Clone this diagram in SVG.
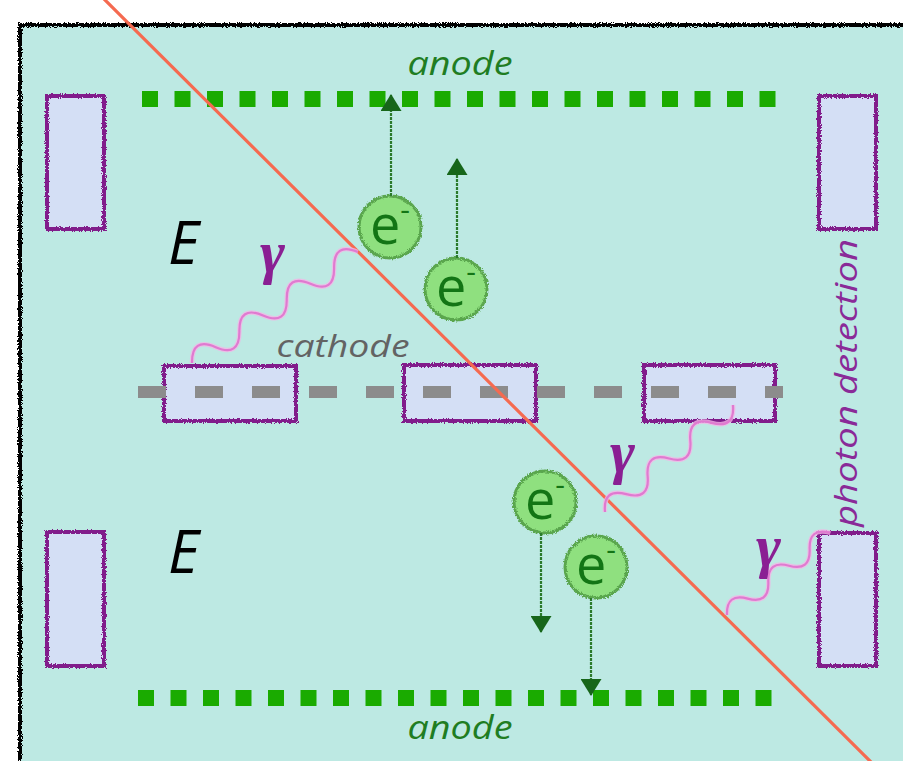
<svg xmlns="http://www.w3.org/2000/svg" width="903" height="761" viewBox="0 0 903 761">
<style>
.lbl{font-family:"Open Sans",Lato,"Liberation Sans",sans-serif;font-style:italic}
.anode{fill:#1f7d22;font-size:33px}
.cath{fill:#636363;font-size:31px}
.E{fill:#000;font-size:60px}
.gam{fill:#8a1f93;font-family:"Liberation Serif","DejaVu Serif",serif;font-style:italic;font-weight:bold;font-size:60px}
.det{fill:#8a2a98;font-size:31px}
.pbox{fill:#d4dff5;stroke:#811a8b;stroke-width:4}
.elec{fill:#8fe07f;stroke:#5aa64e;stroke-width:3}
.etxt{fill:#137515;font-family:"Open Sans",Lato,"Liberation Sans",sans-serif;font-size:54px}
.earrow{stroke:#2b7a2b;stroke-width:2.2;stroke-dasharray:3 1;fill:none}
.karrow{stroke:#000;stroke-width:3;fill:none}
.wave{fill:none;stroke:#e07ad0;stroke-width:2.2}
.wavehalo{fill:none;stroke:#f2b6e6;stroke-width:4.5;opacity:0.8}
</style>
<defs>
<filter id="rough" x="-10%" y="-10%" width="120%" height="120%">
<feTurbulence type="fractalNoise" baseFrequency="1.2" numOctaves="2" seed="3" result="n"/>
<feDisplacementMap in="SourceGraphic" in2="n" scale="4" xChannelSelector="R" yChannelSelector="G"/>
</filter>
<marker id="gHead" markerUnits="userSpaceOnUse" viewBox="0 0 17 21" refX="16" refY="10.5" markerWidth="17" markerHeight="21" orient="auto">
<path d="M0,0 L17,10.5 L0,21 Z" fill="#17661a"/>
</marker>
<marker id="kHead" markerUnits="userSpaceOnUse" viewBox="0 0 27 38" refX="26" refY="19" markerWidth="27" markerHeight="38" orient="auto">
<path d="M0,0 L27,19 L0,38 L5,19 Z" fill="#000"/>
</marker>
</defs>
<rect width="903" height="761" fill="#fff"/>
<g id="chamber">
<rect x="20" y="25" width="900" height="750" fill="#bde9e3"/>
<path d="M20,760 L20,25 L903,25" fill="none" stroke="#000" stroke-width="4" filter="url(#rough)"/>
<path d="M20,758 L903,758" fill="none" stroke="#000" stroke-width="3" filter="url(#rough)" opacity="0.7"/>
</g>
<g id="pmt-top-left"><rect class="pbox" x="47" y="96" width="57" height="133" filter="url(#rough)"/></g>
<g id="pmt-top-right"><rect class="pbox" x="819" y="96" width="57" height="133" filter="url(#rough)"/></g>
<g id="pmt-bottom-left"><rect class="pbox" x="47" y="532" width="57" height="134" filter="url(#rough)"/></g>
<g id="pmt-bottom-right"><rect class="pbox" x="819" y="533" width="57" height="133" filter="url(#rough)"/></g>
<g id="cathode-box-1"><rect class="pbox" x="164" y="366" width="132" height="55" filter="url(#rough)"/></g>
<g id="cathode-box-2"><rect class="pbox" x="404" y="365" width="132" height="56" filter="url(#rough)"/></g>
<g id="cathode-box-3"><rect class="pbox" x="644" y="365" width="131" height="56" filter="url(#rough)"/></g>
<g id="anode-top">
<line x1="142" y1="99" x2="777" y2="99" stroke="#1aab00" stroke-width="16" stroke-dasharray="16 16.5"/>
<text class="lbl anode" x="460" y="75" text-anchor="middle" textLength="105" lengthAdjust="spacingAndGlyphs">anode</text>
</g>
<g id="anode-bottom">
<line x1="138" y1="698" x2="773" y2="698" stroke="#1aab00" stroke-width="16" stroke-dasharray="16 16.5"/>
<text class="lbl anode" x="460" y="739" text-anchor="middle" textLength="105" lengthAdjust="spacingAndGlyphs">anode</text>
</g>
<g id="cathode">
<line x1="138" y1="392" x2="783" y2="392" stroke="#8c8c8c" stroke-width="12" stroke-dasharray="28 29"/>
<text class="lbl cath" x="343" y="357" text-anchor="middle" textLength="133" lengthAdjust="spacingAndGlyphs">cathode</text>
</g>
<g id="field-labels">
<text class="lbl E" x="168" y="264">E</text>
<text class="lbl E" x="168" y="573">E</text>
</g>
<g id="track">
<line x1="103" y1="-2" x2="872" y2="763" stroke="#f56a50" stroke-width="3.2"/>
</g>
<g id="electron-1"><circle class="elec" cx="390" cy="227" r="31" filter="url(#rough)"/><text class="etxt" x="370" y="244">e<tspan font-size="30" dy="-24">-</tspan></text></g>
<g id="electron-2"><circle class="elec" cx="456" cy="289" r="31" filter="url(#rough)"/><text class="etxt" x="436" y="306">e<tspan font-size="30" dy="-24">-</tspan></text></g>
<g id="electron-3"><circle class="elec" cx="545" cy="502" r="31" filter="url(#rough)"/><text class="etxt" x="525" y="519">e<tspan font-size="30" dy="-24">-</tspan></text></g>
<g id="electron-4"><circle class="elec" cx="596" cy="567" r="31" filter="url(#rough)"/><text class="etxt" x="576" y="584">e<tspan font-size="30" dy="-24">-</tspan></text></g>
<g id="photons">
<g transform="translate(192,363) rotate(-33.8)">
<path class="wavehalo" d="M0,0 q14.25,-22 28.5,0 t28.5,0 t28.5,0 t28.5,0 t28.5,0 t28.5,0 t28.5,0"/>
<path class="wave" d="M0,0 q14.25,-22 28.5,0 t28.5,0 t28.5,0 t28.5,0 t28.5,0 t28.5,0 t28.5,0"/>
</g>
<text class="gam" x="260" y="272">γ</text>
<g transform="translate(605,512) rotate(-39.9)">
<path class="wavehalo" d="M0,0 q13.9,-20 27.8,0 t27.8,0 t27.8,0 t27.8,0 t27.8,0 t27.8,0"/>
<path class="wave" d="M0,0 q13.9,-20 27.8,0 t27.8,0 t27.8,0 t27.8,0 t27.8,0 t27.8,0"/>
</g>
<text class="gam" x="610" y="472">γ</text>
<g transform="translate(727,615) rotate(-38.5)">
<path class="wavehalo" d="M0,0 q13.2,-18 26.4,0 t26.4,0 t26.4,0 t26.4,0 t26.4,0"/>
<path class="wave" d="M0,0 q13.2,-18 26.4,0 t26.4,0 t26.4,0 t26.4,0 t26.4,0"/>
</g>
<text class="gam" x="756" y="566">γ</text>
</g>
<g id="connectors">
<line class="earrow" x1="391" y1="196" x2="391" y2="95" marker-end="url(#gHead)"/>
<line class="earrow" x1="457" y1="258" x2="457" y2="159" marker-end="url(#gHead)"/>
<line class="earrow" x1="541" y1="533" x2="541" y2="632" marker-end="url(#gHead)"/>
<line class="earrow" x1="591" y1="598" x2="591" y2="695" marker-end="url(#gHead)"/>
<line class="karrow" x1="148" y1="91" x2="148" y2="377" marker-end="url(#kHead)" filter="url(#rough)"/>
<line class="karrow" x1="148" y1="690" x2="148" y2="412" marker-end="url(#kHead)" filter="url(#rough)"/>
</g>
<g id="photon-detection-label">
<text class="lbl det" transform="translate(857,527) rotate(-90)" textLength="288" lengthAdjust="spacingAndGlyphs">photon detection</text>
</g>
</svg>
